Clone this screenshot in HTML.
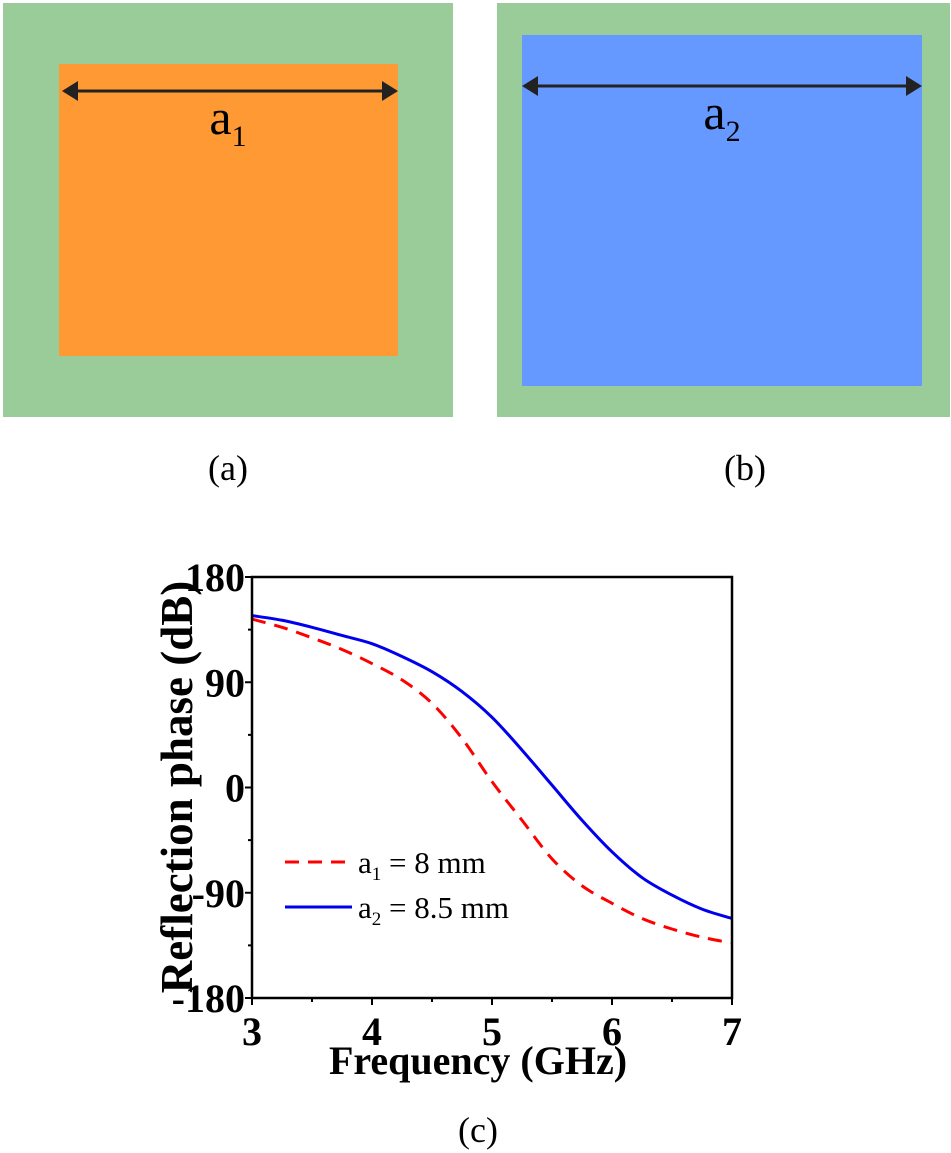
<!DOCTYPE html>
<html><head><meta charset="utf-8"><style>
body{margin:0;background:#fff;width:951px;height:1153px;overflow:hidden}
svg{display:block}
</style></head><body>
<svg width="951" height="1153" viewBox="0 0 951 1153" font-family="Liberation Serif, serif">
<g>
<rect x="3" y="3" width="450" height="414" fill="#99cc99"/>
<rect x="59" y="64" width="339" height="292" fill="#ff9933"/>
<line x1="64" y1="91" x2="396" y2="91" stroke="#222" stroke-width="3"/>
<path d="M62,91 L78,81 L78,101Z M398,91 L382,81 L382,101Z" fill="#222"/>
<text x="228" y="134" font-size="50" text-anchor="middle">a<tspan font-size="30" dy="12">1</tspan></text>
</g>
<g>
<rect x="497" y="3" width="453" height="414" fill="#99cc99"/>
<rect x="522" y="35" width="400" height="351" fill="#6699ff"/>
<line x1="526" y1="86" x2="918" y2="86" stroke="#222" stroke-width="3"/>
<path d="M522,86 L538,76 L538,96Z M922,86 L906,76 L906,96Z" fill="#222"/>
<text x="722" y="129" font-size="50" text-anchor="middle">a<tspan font-size="30" dy="12">2</tspan></text>
</g>
<text x="228" y="480" font-size="36" text-anchor="middle">(a)</text>
<text x="745" y="480" font-size="36" text-anchor="middle">(b)</text>
<g id="chart"></g>
<text x="478" y="1142" font-size="36" text-anchor="middle">(c)</text>
</svg>
<script>
const xTicks=[3,4,5,6,7];
const yTicks=[-180,-90,0,90,180];
const freq=[3,3.25,3.5,3.75,4,4.25,4.5,4.75,5,5.25,5.5,5.75,6,6.25,6.5,6.75,7];
const phaseA1=[144,137,128,118,106,92,72,42,5,-28,-61,-84,-99,-112,-121,-128,-133];
const phaseA2=[147,143,137,130,123,112,99,82,60,32,2,-28,-55,-77,-92,-104,-112];
const L=252,R=732,T=577,B=998;
const sx=v=>L+(v-3)/4*(R-L);
const sy=v=>B-(v+180)/360*(B-T);
const NS='http://www.w3.org/2000/svg';
const g=document.getElementById('chart');
function mk(t,a,txt){const e=document.createElementNS(NS,t);for(const k in a)e.setAttribute(k,a[k]);if(txt!==undefined)e.textContent=txt;g.appendChild(e);return e;}
function path(xs,ys){const p=xs.map((x,i)=>[sx(x),sy(ys[i])]);let d='M'+p[0][0]+','+p[0][1];
for(let i=0;i<p.length-1;i++){const p0=p[Math.max(0,i-1)],p1=p[i],p2=p[i+1],p3=p[Math.min(p.length-1,i+2)];
d+=` C${p1[0]+(p2[0]-p0[0])/6},${p1[1]+(p2[1]-p0[1])/6} ${p2[0]-(p3[0]-p1[0])/6},${p2[1]-(p3[1]-p1[1])/6} ${p2[0]},${p2[1]}`;}return d;}
xTicks.forEach((v,i)=>{
const t=mk('line',{x1:sx(v),y1:B,x2:sx(v),y2:B+7,stroke:'#000','stroke-width':2});


if(i<xTicks.length-1){const m=mk('line',{x1:sx(v+0.5),y1:B,x2:sx(v+0.5),y2:B+4,stroke:'#000','stroke-width':2});

}
const l=mk('text',{x:sx(v),y:1045,'font-size':40,'font-weight':'bold','text-anchor':'middle'},String(v));


});
yTicks.forEach((v,i)=>{
const t=mk('line',{x1:L-7,y1:sy(v),x2:L,y2:sy(v),stroke:'#000','stroke-width':2});


if(i<yTicks.length-1){const m=mk('line',{x1:L-4,y1:sy(v+45),x2:L,y2:sy(v+45),stroke:'#000','stroke-width':2});

}
const l=mk('text',{x:L-7,y:sy(v)+14,'font-size':40,'font-weight':'bold','text-anchor':'end'},String(v));


});
const s1=mk('path',{d:path(freq,phaseA1),fill:'none',stroke:'#ff0000','stroke-width':3,'stroke-dasharray':'14,9'});


const s2=mk('path',{d:path(freq,phaseA2),fill:'none',stroke:'#0000ee','stroke-width':3});


const fr=mk('rect',{x:L,y:T,width:R-L,height:B-T,fill:'none',stroke:'#000','stroke-width':2.5});


const l1=mk('line',{x1:285,y1:862,x2:352,y2:862,stroke:'#ff0000','stroke-width':3,'stroke-dasharray':'14,9'});


const t1=mk('text',{x:358,y:873,'font-size':31});
t1.innerHTML='a<tspan font-size="19" dy="7">1</tspan><tspan dy="-7"> = 8 mm</tspan>';


const l2=mk('line',{x1:285,y1:907,x2:352,y2:907,stroke:'#0000ee','stroke-width':3});


const t2=mk('text',{x:358,y:918,'font-size':31});
t2.innerHTML='a<tspan font-size="19" dy="7">2</tspan><tspan dy="-7"> = 8.5 mm</tspan>';


const xt=mk('text',{x:478,y:1074,'font-size':40,'font-weight':'bold','text-anchor':'middle'},'Frequency (GHz)');


const yt=mk('text',{x:0,y:0,'font-size':45,'font-weight':'bold','text-anchor':'middle',transform:'translate(192,787) rotate(-90)'},'Reflection phase (dB)');


</script>
</body></html>
